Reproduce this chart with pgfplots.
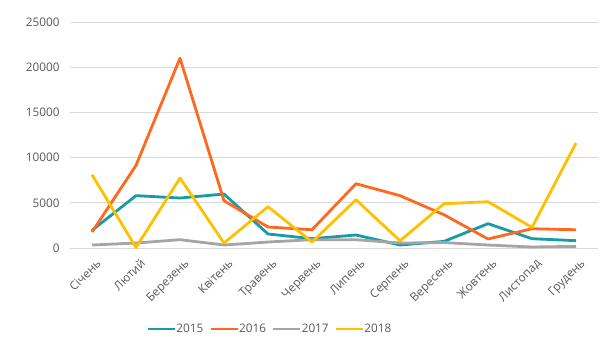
\documentclass[border=0pt]{standalone}
\usepackage{pgfplots}
\pgfplotsset{compat=1.18}
\usepackage{fontspec}
\setmainfont{Open Sans}
\definecolor{c15}{RGB}{23,155,166}
\definecolor{c16}{RGB}{255,104,30}
\definecolor{c17}{RGB}{165,165,165}
\definecolor{c18}{RGB}{255,192,0}
\definecolor{tickc}{RGB}{89,89,89}
\definecolor{gridc}{RGB}{217,217,217}
\begin{document}
\begin{tikzpicture}[x=1bp,y=1bp]
\useasboundingbox (0,0) rectangle (613,355);
\begin{axis}[
  at={(70bp,107bp)}, anchor=south west,
  scale only axis, width=528bp, height=226bp,
  xmin=-0.5, xmax=11.5, ymin=0, ymax=25000,
  xtick={0,...,11},
  xticklabels={Січень,Лютий,Березень,Квітень,Травень,Червень,Липень,Серпень,Вересень,Жовтень,Листопад,Грудень},
  ytick={0,5000,...,25000},
  scaled y ticks=false,
  /pgf/number format/.cd, assume math mode=true, set thousands separator={}, /pgfplots/.cd,
  axis line style={draw=none},
  major tick length=0pt,
  ymajorgrids, grid style={gridc, line width=0.9bp},
  tick label style={font=\fontsize{11.8}{13}\selectfont, text=tickc},
  yticklabel style={xshift=-7bp},
  xticklabel style={rotate=45, anchor=north east, inner sep=0.5bp, yshift=-9bp, xshift=-4bp},
  clip=false,
  every axis plot/.append style={line width=2.8bp, line join=round, mark=none},
  legend style={at={(200bp,-81bp)}, anchor=center, draw=none, fill=none,
    legend columns=4, font=\fontsize{11.8}{13}\selectfont\color{tickc},
    /tikz/every even column/.append style={column sep=4bp},
    /tikz/every odd column/.append style={column sep=-2bp}},
  legend image code/.code={\draw[#1, line width=2.8bp] (0bp,0bp) -- (27bp,0bp);},
]
\addplot[c15] coordinates {(0,1950)(1,5790)(2,5530)(3,5970)(4,1550)(5,1030)(6,1440)(7,330)(8,730)(9,2690)(10,1030)(11,810)};
\addplot[c16] coordinates {(0,1770)(1,9140)(2,21000)(3,5230)(4,2320)(5,2020)(6,7110)(7,5790)(8,3680)(9,1000)(10,2130)(11,2020)};
\addplot[c17] coordinates {(0,330)(1,550)(2,920)(3,330)(4,660)(5,920)(6,920)(7,550)(8,600)(9,330)(10,110)(11,180)};
\addplot[c18] coordinates {(0,8100)(1,60)(2,7740)(3,550)(4,4570)(5,660)(6,5340)(7,800)(8,4900)(9,5120)(10,2280)(11,11610)};
\legend{2015,2016,2017,2018}
\end{axis}
\end{tikzpicture}
\end{document}
